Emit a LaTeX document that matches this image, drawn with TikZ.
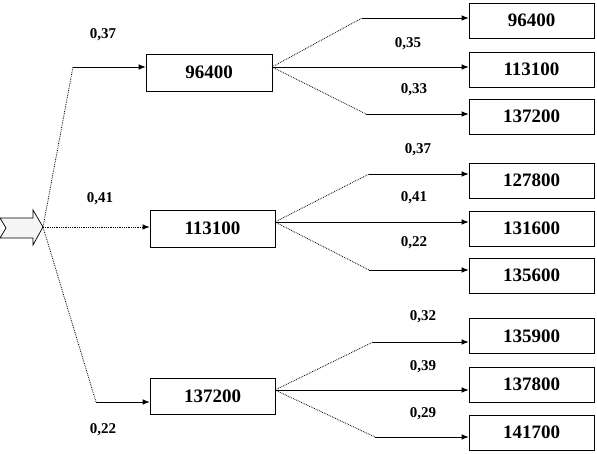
\documentclass[tikz,border=0pt]{standalone}
\usepackage{fontspec}
\setmainfont{Liberation Serif}
\usetikzlibrary{arrows.meta}
\begin{document}
\begin{tikzpicture}[x=1pt, y=1pt, >={Latex[length=7pt,width=5.5pt]}, line width=0.7pt,
		box/.style={draw, minimum width=125pt, minimum height=35pt, inner sep=0pt, font=\fontsize{19}{22}\selectfont\bfseries},
		prob/.style={font=\fontsize{15}{17}\selectfont\bfseries},
		diag/.style={densely dotted, line width=0.8pt}]
		\useasboundingbox (0,0) rectangle (597,453);
		\draw[fill=gray!8] (0,235) -- (33,235) -- (33,243) -- (43,226) -- (33,208) -- (33,215) -- (0,215) -- (6,225) -- cycle;
		\coordinate (src) at (43,226);
		\node[box, minimum height=37pt, minimum width=126pt] (m1) at (209,380.5) {96400};
		\node[box, minimum height=37pt] (m2) at (212.5,224.5) {113100};
		\node[box, minimum height=36pt] (m3) at (212.5,57) {137200};
		\node[box] (r1) at (531.5,432.5) {96400};
		\node[box] (r2) at (531.5,383.5) {113100};
		\node[box] (r3) at (531.5,336.5) {137200};
		\node[box] (r4) at (531.5,272.5) {127800};
		\node[box] (r5) at (531.5,224.5) {131600};
		\node[box] (r6) at (531.5,177.5) {135600};
		\node[box] (r7) at (531.5,117) {135900};
		\node[box] (r8) at (531.5,68.5) {137800};
		\node[box] (r9) at (531.5,20.5) {141700};
		\coordinate (k1) at (73,386);
		\coordinate (k3) at (96,51);
		\coordinate (o1) at (272,386);
		\coordinate (o2) at (275,231);
		\coordinate (o3) at (275,63);
		\coordinate (u1) at (362,435);
		\coordinate (d1) at (366,339);
		\coordinate (u2) at (369,279);
		\coordinate (d2) at (369,183);
		\coordinate (u3) at (373,111);
		\coordinate (d3) at (375,16);
		\draw[diag] (src) -- (k1);
		\draw[->] (k1) -- (k1 -| m1.west);
		\draw[diag, ->] (src) -- (src -| m2.west);
		\draw[diag] (src) -- (k3);
		\draw[->] (k3) -- (k3 -| m3.west);
		\draw[diag] (o1) -- (u1) (o1) -- (d1);
		\draw[->] (u1) -- (u1 -| r1.west);
		\draw[->] (o1) -- (o1 -| r2.west);
		\draw[->] (d1) -- (d1 -| r3.west);
		\draw[diag] (o2) -- (u2) (o2) -- (d2);
		\draw[->] (u2) -- (u2 -| r4.west);
		\draw[->] (o2) -- (o2 -| r5.west);
		\draw[->] (d2) -- (d2 -| r6.west);
		\draw[diag] (o3) -- (u3) (o3) -- (d3);
		\draw[->] (u3) -- (u3 -| r7.west);
		\draw[->] (o3) -- (o3 -| r8.west);
		\draw[->] (d3) -- (d3 -| r9.west);
		\node[prob] (p1) at (103,418) {0,37};
		\node[prob] (p2) at (100,254) {0,41};
		\node[prob] (p3) at (103,23) {0,22};
		\node[prob] (p4) at (408,409) {0,35};
		\node[prob] (p5) at (414,363) {0,33};
		\node[prob] (p6) at (418,303) {0,37};
		\node[prob] (p7) at (414,255) {0,41};
		\node[prob] (p8) at (414,210) {0,22};
		\node[prob] (p9) at (423,136) {0,32};
		\node[prob] (p10) at (423,86) {0,39};
		\node[prob] (p11) at (423,39) {0,29};
	\end{tikzpicture}
\end{document}
